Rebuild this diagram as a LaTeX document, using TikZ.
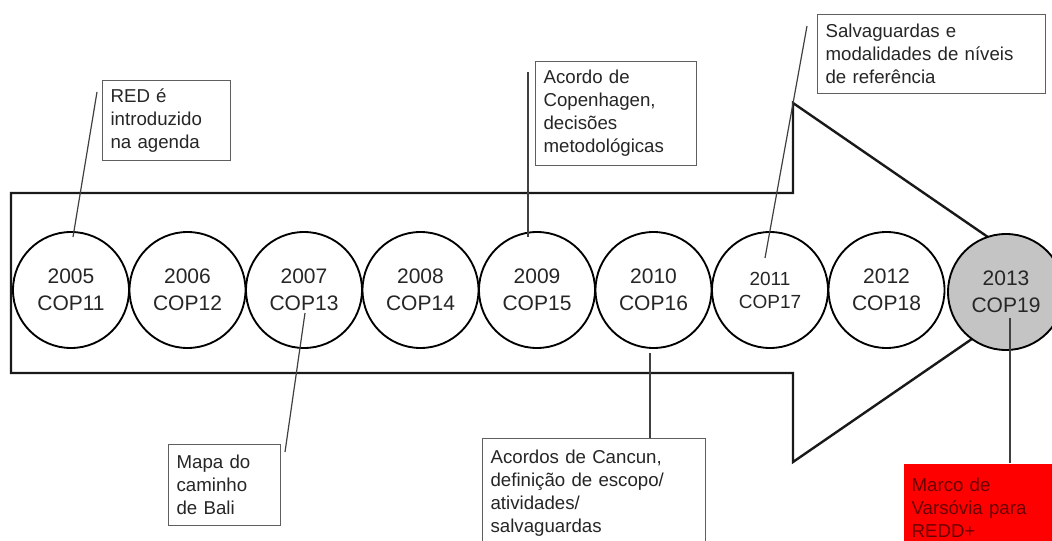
\documentclass[tikz,border=0pt]{standalone}
\usepackage{fontspec}
\setmainfont{Liberation Sans}
\usepackage{tikz}

\definecolor{noteline}{RGB}{95,95,95}
\definecolor{lastcop}{RGB}{196,196,196}
\definecolor{varsovia}{RGB}{255,0,0}
\definecolor{varsoviatext}{RGB}{105,0,0}

\begin{document}
\begin{tikzpicture}[x=0.75pt,y=0.75pt,yscale=-1,
    cop/.style={circle, draw=black, line width=1.4pt, fill=white, minimum size=87pt, inner sep=0pt, align=center, text=black!85, font=\fontsize{15.75}{20.25}\selectfont},
    note/.style={rectangle, draw=noteline, line width=0.9pt, fill=white, anchor=north west, align=left, inner xsep=6pt, inner ysep=0pt, text=black!85, font=\fontsize{14}{17.25}\selectfont},
    link/.style={draw=black!75, line width=0.9pt}]
    \useasboundingbox (0,0) rectangle (1052,541);

    %Shape: Arrow
    \draw [line width=1.8pt, draw=black!90, fill=white] (11,193) -- (793,193) -- (793,103) -- (1054,282.5) -- (793,462) -- (793,373) -- (11,373) -- cycle ;

    %Shape: Circle
    \node [cop] (c2005) at (71,290) {2005\\COP11};
    %Shape: Circle
    \node [cop] (c2006) at (187.5,290) {2006\\COP12};
    %Shape: Circle
    \node [cop] (c2007) at (304,290) {2007\\COP13};
    %Shape: Circle
    \node [cop] (c2008) at (420.5,290) {2008\\COP14};
    %Shape: Circle
    \node [cop] (c2009) at (537,290) {2009\\COP15};
    %Shape: Circle
    \node [cop] (c2010) at (653.5,290) {2010\\COP16};
    %Shape: Circle
    \node [cop, font=\fontsize{14.25}{17.25}\selectfont] (c2011) at (770,290) {2011\\COP17};
    %Shape: Circle
    \node [cop] (c2012) at (886.5,290) {2012\\COP18};
    %Shape: Circle
    \node [cop, fill=lastcop] (c2013) at (1006,292) {2013\\COP19};

    % Text Node
    \node [note, text width=84pt, minimum height=60pt] (red) at (102,80) {RED é\\introduzido\\na agenda};
    % Text Node
    \node [note, text width=72pt, minimum height=60.75pt] (bali) at (168,444) {Mapa do\\caminho\\de Bali};
    % Text Node
    \node [note, text width=108.75pt, minimum height=78pt] (copenhagen) at (535,61) {Acordo de\\Copenhagen,\\decisões\\metodológicas};
    % Text Node
    \node [note, text width=155.25pt, minimum height=82.5pt] (cancun) at (482,438) {Acordos de Cancun,\\definição de escopo/\\atividades/\\salvaguardas};
    % Text Node
    \node [note, text width=159pt, minimum height=59.25pt] (salvaguardas) at (817,14) {Salvaguardas e\\modalidades de níveis\\de referência};
    % Text Node
    \node [note, draw=none, fill=varsovia, text=varsoviatext, text width=107pt, minimum height=66pt] (varsovia) at (903,463) {Marco de\\Varsóvia para\\REDD+};

    %Connectors
    \coordinate (p2005) at (73,237);
    \coordinate (q2005) at (97,92);
    \coordinate (p2007) at (305,313);
    \coordinate (q2007) at (285,452);
    \coordinate (p2009) at (528,237);
    \coordinate (q2009) at (528,72);
    \coordinate (p2010) at (650,353);
    \coordinate (p2011) at (765,258);
    \coordinate (q2011) at (807,26);
    \coordinate (p2013) at (1010,318);
    \draw [link] (p2005) -- (q2005) ;
    \draw [link] (p2007) -- (q2007) ;
    \draw [link] (p2009) -- (q2009) ;
    \draw [link] (p2010) -- (p2010 |- cancun.north) ;
    \draw [link] (p2011) -- (q2011) ;
    \draw [link] (p2013) -- (p2013 |- varsovia.north) ;

\end{tikzpicture}
\end{document}
